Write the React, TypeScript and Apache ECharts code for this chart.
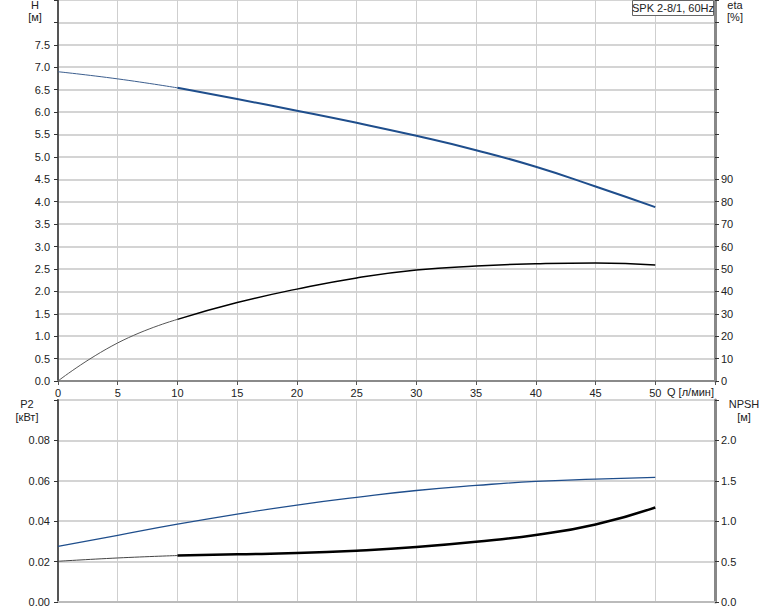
import React, { useEffect, useRef } from "react";
import * as echarts from "echarts";

const Q = [0, 5, 10, 15, 20, 25, 30, 35, 40, 45, 50];
const H = [6.9, 6.74, 6.54, 6.29, 6.03, 5.76, 5.47, 5.15, 4.78, 4.34, 3.88];
const ETA = [0, 17, 27.5, 35, 41, 46, 49.5, 51.3, 52.3, 52.7, 51.8];
const P2 = [0.0275, 0.033, 0.0385, 0.0435, 0.048, 0.0518, 0.0552, 0.0577, 0.0597, 0.0608, 0.0617];
const NPSH = [0.504, 0.545, 0.575, 0.59, 0.605, 0.635, 0.68, 0.745, 0.83, 0.96, 1.17];
const TITLE = "SPK 2-8/1, 60Hz";

const FONT = "Liberation Sans, Arial, sans-serif";
const BLUE = "#1f4e8c";

function pairs(ys: number[], from: number, to: number) {
  const out: number[][] = [];
  for (let i = 0; i < Q.length; i++) {
    if (Q[i] >= from && Q[i] <= to) out.push([Q[i], ys[i]]);
  }
  return out;
}

export default function App() {
  const ref = useRef<HTMLDivElement>(null);
  useEffect(() => {
    if (!ref.current) return;
    const chart = echarts.init(ref.current, undefined, { renderer: "svg" });
    const label = { fontFamily: FONT, fontSize: 11, color: "#222" };
    const xCommon = {
      type: "value" as const,
      min: 0,
      max: 55,
      interval: 5,
      splitLine: { show: true, lineStyle: { color: "#cfcfcf", width: 1 } },
    };
    const txt = (x: number, y: number, text: string, align = "center") => ({
      type: "text",
      x,
      y,
      z: 11,
      style: { text, fontFamily: FONT, fontSize: 11, fill: "#222", align, verticalAlign: "middle" },
    });
    const SM = 0.5;
    chart.setOption({
      animation: false,
      grid: [
        { left: 58, right: 59, top: 0, bottom: 230, show: true, borderColor: "#999", borderWidth: 1 },
        { left: 58, right: 59, top: 400, bottom: 9, show: true, borderColor: "#aaa", borderWidth: 2 },
      ],
      xAxis: [
        {
          ...xCommon,
          gridIndex: 0,
          axisLine: { show: true, lineStyle: { color: "#8a8a8a", width: 2 } },
          axisTick: { show: true, length: 4, lineStyle: { color: "#555" } },
          axisLabel: {
            ...label,
            margin: 6,
            formatter: (v: number) => (v > 50 ? "" : String(v)),
          },
        },
        {
          ...xCommon,
          gridIndex: 1,
          axisLine: { show: true, lineStyle: { color: "#bbb", width: 2 } },
          axisTick: { show: false },
          axisLabel: { show: false },
        },
      ],
      yAxis: [
        {
          type: "value",
          gridIndex: 0,
          min: 0,
          max: 8.5,
          interval: 0.5,
          axisLine: { show: true, lineStyle: { color: "#555", width: 2 } },
          axisTick: { show: true, length: 4, lineStyle: { color: "#333" } },
          splitLine: { show: true, lineStyle: { color: "#d4d4d4", width: 2 } },
          axisLabel: {
            ...label,
            margin: 8,
            formatter: (v: number) => (v > 7.6 ? "" : v.toFixed(1)),
          },
        },
        {
          type: "value",
          gridIndex: 0,
          position: "right",
          min: 0,
          max: 170,
          interval: 10,
          axisLine: { show: true, lineStyle: { color: "#888", width: 3 } },
          axisTick: { show: true, length: 4, lineStyle: { color: "#333" } },
          splitLine: { show: false },
          axisLabel: {
            ...label,
            margin: 6,
            formatter: (v: number) => (v > 95 ? "" : String(Math.round(v))),
          },
        },
        {
          type: "value",
          gridIndex: 1,
          min: 0,
          max: 0.1,
          interval: 0.02,
          axisLine: { show: true, lineStyle: { color: "#555", width: 2 } },
          axisTick: { show: true, length: 4, lineStyle: { color: "#333" } },
          splitLine: { show: true, lineStyle: { color: "#d4d4d4", width: 2 } },
          axisLabel: {
            ...label,
            margin: 8,
            formatter: (v: number) => (v > 0.09 ? "" : v.toFixed(2)),
          },
        },
        {
          type: "value",
          gridIndex: 1,
          position: "right",
          min: 0,
          max: 2.5,
          interval: 0.5,
          axisLine: { show: true, lineStyle: { color: "#888", width: 3 } },
          axisTick: { show: true, length: 4, lineStyle: { color: "#333" } },
          splitLine: { show: false },
          axisLabel: {
            ...label,
            margin: 6,
            formatter: (v: number) => (v > 2.4 ? "" : v.toFixed(1)),
          },
        },
      ],
      series: [
        { type: "line", xAxisIndex: 0, yAxisIndex: 0, data: pairs(H, 0, 10), smooth: SM, symbol: "none", lineStyle: { color: "#3d5f8f", width: 1 } },
        { type: "line", xAxisIndex: 0, yAxisIndex: 0, data: pairs(H, 10, 50), smooth: SM, symbol: "none", lineStyle: { color: BLUE, width: 2 } },
        { type: "line", xAxisIndex: 0, yAxisIndex: 1, data: pairs(ETA, 0, 10), smooth: SM, symbol: "none", lineStyle: { color: "#555", width: 1 } },
        { type: "line", xAxisIndex: 0, yAxisIndex: 1, data: pairs(ETA, 10, 50), smooth: SM, symbol: "none", lineStyle: { color: "#000", width: 1.5 } },
        { type: "line", xAxisIndex: 1, yAxisIndex: 2, data: pairs(P2, 0, 50), smooth: SM, symbol: "none", lineStyle: { color: BLUE, width: 1.3 } },
        { type: "line", xAxisIndex: 1, yAxisIndex: 3, data: pairs(NPSH, 0, 10), smooth: SM, symbol: "none", lineStyle: { color: "#444", width: 1 } },
        { type: "line", xAxisIndex: 1, yAxisIndex: 3, data: pairs(NPSH, 10, 50), smooth: SM, symbol: "none", lineStyle: { color: "#000", width: 2.5 } },
      ],
      graphic: [
        { type: "rect", shape: { x: 632.5, y: 0.5, width: 81, height: 15 }, style: { fill: "#fff", stroke: "#666", lineWidth: 1 }, z: 10 },
        txt(673, 8, TITLE),
        txt(35, 5, "H"),
        txt(35, 17, "[м]"),
        txt(735, 5, "eta"),
        txt(735, 17, "[%]"),
        txt(27, 404, "P2"),
        txt(27, 417, "[кВт]"),
        txt(744, 404, "NPSH"),
        txt(744, 417, "[м]"),
        txt(667, 392, "Q [л/мин]", "left"),
      ],
    });
    return () => chart.dispose();
  }, []);
  return (
    <div
      ref={ref}
      style={{ position: "absolute", left: 0, top: 0, width: 774, height: 611 }}
    />
  );
}
